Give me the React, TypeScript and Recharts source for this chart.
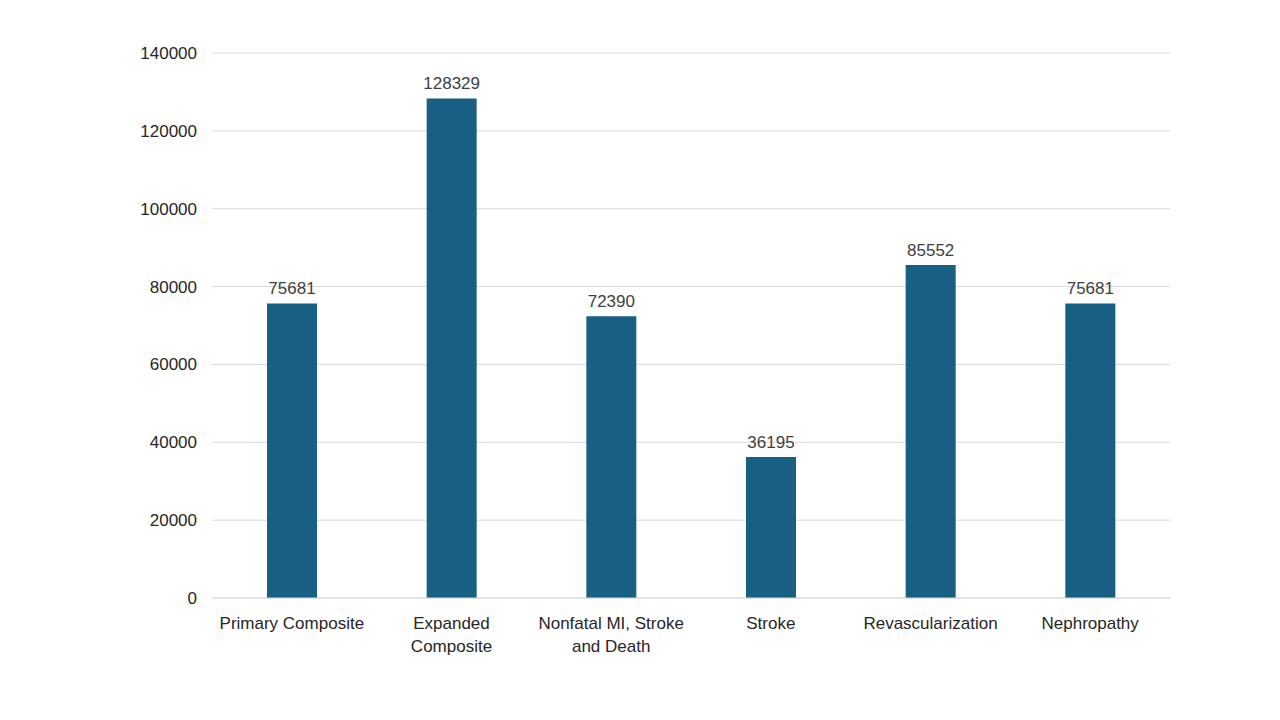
import React from 'react';
import { BarChart, Bar, XAxis, YAxis, CartesianGrid, LabelList } from 'recharts';

const categories = [
  'Primary Composite',
  'Expanded Composite',
  'Nonfatal MI, Stroke and Death',
  'Stroke',
  'Revascularization',
  'Nephropathy',
];

// how each category label wraps under the axis
const tickLines: Record<string, string[]> = {
  'Primary Composite': ['Primary Composite'],
  'Expanded Composite': ['Expanded', 'Composite'],
  'Nonfatal MI, Stroke and Death': ['Nonfatal MI, Stroke', 'and Death'],
  Stroke: ['Stroke'],
  Revascularization: ['Revascularization'],
  Nephropathy: ['Nephropathy'],
};

const values = [75681, 128329, 72390, 36195, 85552, 75681];
const yTicks = [0, 20000, 40000, 60000, 80000, 100000, 120000, 140000];

const data = categories.map((name, i) => ({ name, value: values[i] }));

const FONT = '"Liberation Sans", Arial, sans-serif';

function CategoryTick({ x, y, payload }: any) {
  const lines = tickLines[payload.value] ?? [payload.value];
  return (
    <text x={x} y={y} textAnchor="middle" fill="#262626" fontSize={17} fontFamily={FONT}>
      {lines.map((l, i) => (
        <tspan key={i} x={x} dy={i === 0 ? 29 : 23}>
          {l}
        </tspan>
      ))}
    </text>
  );
}

export default function App() {
  return (
    <div style={{ position: 'fixed', left: 0, top: 0, width: 1280, height: 720, background: '#fff' }}>
      <BarChart
        width={1280}
        height={720}
        data={data}
        margin={{ top: 53, right: 110, left: 0, bottom: 62 }}
      >
        <CartesianGrid vertical={false} stroke="#d9d9d9" />
        <XAxis
          dataKey="name"
          height={60}
          interval={0}
          tickLine={false}
          tickSize={0}
          axisLine={{ stroke: '#d9d9d9' }}
          tick={<CategoryTick />}
        />
        <YAxis
          width={212}
          domain={[0, 140000]}
          ticks={yTicks}
          axisLine={false}
          tickLine={false}
          tickSize={0}
          tickMargin={15}
          tick={{ fontSize: 17, fill: '#262626', fontFamily: FONT }}
        />
        <Bar dataKey="value" fill="#176084" barSize={50} isAnimationActive={false}>
          <LabelList
            dataKey="value"
            position="top"
            offset={9}
            fill="#404040"
            fontSize={17}
            fontFamily={FONT}
          />
        </Bar>
      </BarChart>
    </div>
  );
}
